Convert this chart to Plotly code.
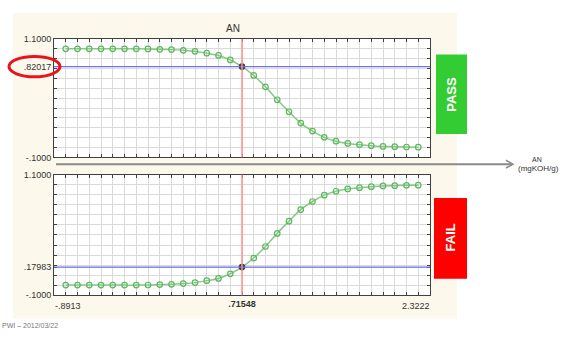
import plotly.graph_objects as go

W, H = 561, 338

# ---------------- data ----------------
x_min, x_max = -0.8913, 2.3222
x_mark = 0.71548
an_values = [-0.7909, -0.6905, -0.5900, -0.4896, -0.3892, -0.2888, -0.1883, -0.0879,
             0.0125, 0.1129, 0.2133, 0.3138, 0.4142, 0.5146, 0.6150, 0.71548,
             0.8159, 0.9163, 1.0167, 1.1171, 1.2176, 1.3180, 1.4184, 1.5188,
             1.6192, 1.7197, 1.8201, 1.9205, 2.0209, 2.1214, 2.2218]
pass_prob = [1.000, 1.000, 1.000, 1.000, 1.000, 1.000, 1.000, 0.999, 0.995, 0.992,
             0.985, 0.975, 0.956, 0.933, 0.887, 0.82017, 0.730, 0.615, 0.484, 0.362,
             0.247, 0.166, 0.103, 0.064, 0.041, 0.028, 0.018, 0.011, 0.008, 0.005, 0.003]
fail_prob = [0.000, 0.000, 0.000, 0.000, 0.000, 0.000, 0.000, 0.001, 0.005, 0.008,
             0.015, 0.025, 0.044, 0.067, 0.113, 0.17983, 0.270, 0.385, 0.516, 0.638,
             0.753, 0.834, 0.897, 0.936, 0.959, 0.972, 0.982, 0.989, 0.992, 0.995, 0.997]
y_min, y_max = -0.1, 1.1
pass_level = 0.82017
fail_level = 0.17983
y_top_ticks = [1.1, 0.82017, -0.1]
y_top_text = ["1.1000", ".82017", "-.1000"]
y_bot_ticks = [1.1, 0.17983, -0.1]
y_bot_text = ["1.1000", ".17983", "-.1000"]
x_ticks = [x_min, x_mark, x_max]
x_text = ["-.8913", "<b>.71548</b>", "2.3222"]

# ---------------- helpers (pixel -> paper) ----------------
def px(x):
    return x / W

def py(y):
    return (H - y) / H

FONT = "Arial, Liberation Sans, sans-serif"
GREEN_LINE = "#86c986"
GREEN_MK = "#5cb85c"

# grid positions (32 vertical divisions, 12 horizontal divisions)
xstep = (x_max - x_min) / 32
x_grid = [x_min + k * xstep for k in range(33)]
y_grid = [round(-0.1 + k * 0.1, 4) for k in range(13)]


def merge_ticks(grid, vals, texts):
    tv, tt = [], []
    for g in grid:
        if not any(abs(g - v) < 1e-3 for v in vals):
            tv.append(g)
            tt.append("")
    for v, t in zip(vals, texts):
        tv.append(v)
        tt.append(t)
    return tv, tt


mk_line_cols = [GREEN_MK] * len(an_values)
mk_fill = ["rgba(0,0,0,0)"] * len(an_values)
idx = an_values.index(x_mark)
mk_line_cols[idx] = "#404040"
mk_fill[idx] = "#404040"

fig = go.Figure()
for yv, xa, ya in [(pass_prob, "x", "y"), (fail_prob, "x2", "y2")]:
    fig.add_trace(go.Scatter(
        x=an_values, y=yv, mode="lines+markers", xaxis=xa, yaxis=ya,
        line=dict(color=GREEN_LINE, width=1.5, shape="spline"),
        marker=dict(symbol="circle", size=5.5, color=mk_fill,
                    line=dict(color=mk_line_cols, width=1.2)),
        showlegend=False, hoverinfo="skip"))

x_dom = [px(54), px(430)]
top_dom = [py(157), py(35)]
bot_dom = [py(299), py(175)]


def xaxis(anchor, show_labels):
    # middle label drawn as a tick label; end labels are drawn as aligned annotations
    tv, tt = merge_ticks(x_grid, x_ticks, ["", x_text[1], ""])
    return dict(
        domain=x_dom, anchor=anchor, range=[x_min, x_max],
        tickmode="array", tickvals=tv, ticktext=tt,
        showticklabels=show_labels, ticks="inside", ticklen=3, tickcolor="#404040",
        showgrid=True, gridcolor="#dadada", gridwidth=1, zeroline=False,
        showline=True, linecolor="#404040", linewidth=1, mirror="ticks",
        tickfont=dict(family=FONT, size=9, color="#333333"),
    )


def yaxis(anchor, dom, vals, texts):
    tv, tt = merge_ticks(y_grid, vals, texts)
    return dict(
        domain=dom, anchor=anchor, range=[y_min, y_max],
        tickmode="array", tickvals=tv, ticktext=tt,
        ticks="inside", ticklen=3, tickcolor="#404040",
        showgrid=True, gridcolor="#dadada", gridwidth=1, zeroline=False,
        showline=True, linecolor="#404040", linewidth=1, mirror="ticks",
        tickfont=dict(family=FONT, size=9, color="#333333"),
    )


fig.update_layout(
    width=W, height=H, margin=dict(l=0, r=0, t=0, b=0),
    paper_bgcolor="white", plot_bgcolor="white",
    xaxis=xaxis("y", False),
    yaxis=yaxis("x", top_dom, y_top_ticks, y_top_text),
    xaxis2=xaxis("y2", True),
    yaxis2=yaxis("x2", bot_dom, y_bot_ticks, y_bot_text),
)

shapes = [
    # beige panel
    dict(type="rect", xref="paper", yref="paper", x0=px(13), x1=px(457),
         y0=py(323), y1=py(8), fillcolor="#fdf8ec", line=dict(width=0), layer="below"),
    # white plot areas on top of the panel
    dict(type="rect", xref="x domain", yref="y domain", x0=0, x1=1, y0=0, y1=1,
         fillcolor="white", line=dict(width=0), layer="below"),
    dict(type="rect", xref="x2 domain", yref="y2 domain", x0=0, x1=1, y0=0, y1=1,
         fillcolor="white", line=dict(width=0), layer="below"),
    # threshold lines
    dict(type="line", xref="x domain", yref="y", x0=0, x1=1, y0=pass_level, y1=pass_level,
         line=dict(color="#7070f0", width=1.2)),
    dict(type="line", xref="x2 domain", yref="y2", x0=0, x1=1, y0=fail_level, y1=fail_level,
         line=dict(color="#7070f0", width=1.2)),
    # red vertical lines
    dict(type="line", xref="x", yref="y domain", x0=x_mark, x1=x_mark, y0=0, y1=1,
         line=dict(color="#ff8c8c", width=1.5)),
    dict(type="line", xref="x2", yref="y2 domain", x0=x_mark, x1=x_mark, y0=0, y1=1,
         line=dict(color="#ff8c8c", width=1.5)),
    # axis arrow
    dict(type="line", xref="paper", yref="paper", x0=px(56), x1=px(512), y0=py(164), y1=py(164),
         line=dict(color="#8a8a8a", width=2)),
    dict(type="path", xref="paper", yref="paper",
         path=f"M {px(506)} {py(160)} L {px(513)} {py(164)} L {px(506)} {py(168)}",
         line=dict(color="#8a8a8a", width=1.5)),
    # PASS / FAIL boxes
    dict(type="rect", xref="paper", yref="paper", x0=px(436), x1=px(467), y0=py(133), y1=py(51),
         fillcolor="#33cc33", line=dict(width=0)),
    dict(type="rect", xref="paper", yref="paper", x0=px(434), x1=px(467), y0=py(282), y1=py(199),
         fillcolor="#ff0000", line=dict(width=0)),
    # red ellipse
    dict(type="circle", xref="paper", yref="paper", x0=px(9), x1=px(60), y0=py(74), y1=py(53),
         line=dict(color="#e8141c", width=3)),
]
fig.update_layout(shapes=shapes)

ann = [
    dict(text="AN", x=px(233), y=py(17), xref="paper", yref="paper", showarrow=False,
         font=dict(family=FONT, size=10, color="#333333")),
    dict(text=x_text[0], x=x_min, y=py(310), xref="x2", yref="paper", showarrow=False,
         xanchor="left", yanchor="middle", xshift=-1,
         font=dict(family=FONT, size=9, color="#333333")),
    dict(text=x_text[2], x=x_max, y=py(310), xref="x2", yref="paper", showarrow=False,
         xanchor="right", yanchor="middle", xshift=2,
         font=dict(family=FONT, size=9, color="#333333")),
    dict(text="<b>PASS</b>", x=px(451.5), y=py(92), xref="paper", yref="paper", showarrow=False,
         textangle=-90, font=dict(family=FONT, size=13, color="white"), xanchor="center",
         yanchor="middle"),
    dict(text="<b>FAIL</b>", x=px(450.5), y=py(240), xref="paper", yref="paper", showarrow=False,
         textangle=-90, font=dict(family=FONT, size=13, color="white"), xanchor="center",
         yanchor="middle"),
    dict(text="AN", x=px(530), y=py(159), xref="paper", yref="paper", showarrow=False,
         xanchor="left", yanchor="middle", font=dict(family=FONT, size=7, color="#333333")),
    dict(text="(mgKOH/g)", x=px(516), y=py(168), xref="paper", yref="paper", showarrow=False,
         xanchor="left", yanchor="middle", font=dict(family=FONT, size=8, color="#333333")),
    dict(text="PWI – 2012/03/22", x=0, y=py(330), xref="paper", yref="paper", showarrow=False,
         xanchor="left", yanchor="middle", font=dict(family=FONT, size=7, color="#777777")),
]
fig.update_layout(annotations=ann)

fig.write_html("out.html")
